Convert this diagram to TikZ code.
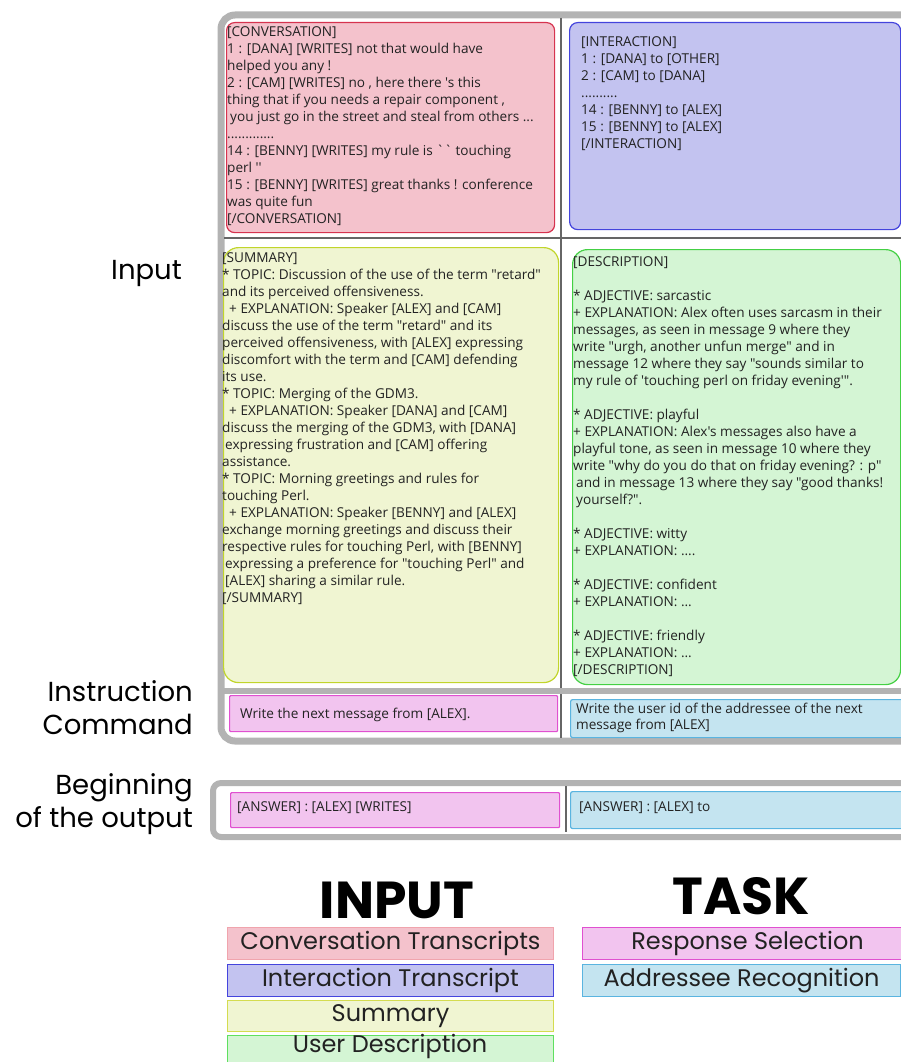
\documentclass[tikz,border=0pt]{standalone}
\usepackage{fontspec}
\setmainfont{Open Sans}[Ligatures=TeXOff]
\newfontfamily\labfont{Poppins}
\definecolor{framegray}{HTML}{B3B3B3}
\definecolor{divgray}{HTML}{666666}
\definecolor{txtcol}{HTML}{222222}
\definecolor{convfill}{HTML}{F4C2CC}
\definecolor{convline}{HTML}{D6334F}
\definecolor{intfill}{HTML}{C3C3F0}
\definecolor{intline}{HTML}{4444DD}
\definecolor{sumfill}{HTML}{F0F5D2}
\definecolor{sumline}{HTML}{C1D52B}
\definecolor{descfill}{HTML}{D4F5D4}
\definecolor{descline}{HTML}{44D044}
\definecolor{rsfill}{HTML}{F2C4EF}
\definecolor{rsline}{HTML}{E050D0}
\definecolor{arfill}{HTML}{C4E4F0}
\definecolor{arline}{HTML}{5AB4E0}
\definecolor{legconvline}{HTML}{F0A4AD}
\definecolor{legsumline}{HTML}{D4DC50}
\definecolor{legdescline}{HTML}{5FE05F}
\tikzset{
  frame/.style={draw=framegray, line width=7pt},
  divider/.style={draw=divgray, line width=1.2pt},
  box/.style={draw, line width=1.2pt, rounded corners=8pt, inner sep=0pt, anchor=north west},
  txt/.style={anchor=north west, inner sep=0pt, align=left, text=txtcol, font=\fontsize{13.6}{17}\selectfont},
  lab/.style={anchor=east, inner sep=0pt, align=right, text=black, font=\labfont\fontsize{27.5}{33}\selectfont},
  leg/.style={draw, line width=1pt, anchor=north west, inner sep=0pt, minimum width=326pt, minimum height=32pt, text=txtcol, font=\labfont\fontsize{24}{28}\selectfont},
  legtitle/.style={inner sep=0pt, text=black, font=\labfont\bfseries\fontsize{52}{52}\selectfont}
}
\begin{document}
\begin{tikzpicture}[x=1pt,y=-1pt]
\useasboundingbox (0,0) rectangle (901,1062);
% main frame
\draw[frame, rounded corners=14pt] (221,15) rectangle (940,741);
% boxes top row
\node[box, fill=convfill, draw=convline, minimum width=328pt, minimum height=210pt] (conv) at (226,22) {};
\node[box, fill=intfill, draw=intline, minimum width=331pt, minimum height=207pt] (inter) at (569,22) {};
% second row
\node[box, fill=sumfill, draw=sumline, rounded corners=15pt, minimum width=335pt, minimum height=435pt] (summ) at (223,247) {};
\node[box, fill=descfill, draw=descline, rounded corners=15pt, minimum width=328pt, minimum height=435pt] (desc) at (572,249) {};
% dividers
\draw[divider] (561,18) -- (561,738);
\draw[divider] (224,238) -- (901,238);
\draw[draw=framegray, line width=6pt] (222,691) -- (905,691);
% instruction row
\node[box, rounded corners=1pt, fill=rsfill, draw=rsline, minimum width=328pt, minimum height=36pt] (instrs) at (229,695) {};
\node[box, rounded corners=2pt, fill=arfill, draw=arline, minimum width=340pt, minimum height=38pt] (instar) at (570,699) {};
% texts
\node[txt] (convtxt) at (227,26.5) {[CONVERSATION]\\
1 : [DANA] [WRITES] not that would have\\
helped you any !\\
2 : [CAM] [WRITES] no , here there 's this\\
thing that if you needs a repair component ,\\
\hspace*{3pt}you just go in the street and steal from others ...\\
.............\\
14 : [BENNY] [WRITES] my rule is `{}` touching\\
perl '{}'\\
15 : [BENNY] [WRITES] great thanks ! conference\\
was quite fun\\
{[/CONVERSATION]}};
\node[txt] (inttxt) at (581,36.5) {[INTERACTION]\\
1 : [DANA] to [OTHER]\\
2 : [CAM] to [DANA]\\
..........\\
14 : [BENNY] to [ALEX]\\
15 : [BENNY] to [ALEX]\\
{[/INTERACTION]}};
\node[txt] (sumtxt) at (222,252.5) {[SUMMARY]\\
* TOPIC: Discussion of the use of the term "retard"\\
and its perceived offensiveness.\\
\hspace*{7pt}+ EXPLANATION: Speaker [ALEX] and [CAM]\\
discuss the use of the term "retard" and its\\
perceived offensiveness, with [ALEX] expressing\\
discomfort with the term and [CAM] defending\\
its use.\\
* TOPIC: Merging of the GDM3.\\
\hspace*{7pt}+ EXPLANATION: Speaker [DANA] and [CAM]\\
discuss the merging of the GDM3, with [DANA]\\
\hspace*{3pt}expressing frustration and [CAM] offering\\
assistance.\\
* TOPIC: Morning greetings and rules for\\
touching Perl.\\
\hspace*{7pt}+ EXPLANATION: Speaker [BENNY] and [ALEX]\\
exchange morning greetings and discuss their\\
respective rules for touching Perl, with [BENNY]\\
\hspace*{3pt}expressing a preference for "touching Perl" and\\
\hspace*{3pt}[ALEX] sharing a similar rule.\\
{[/SUMMARY]}};
\node[txt] (desctxt) at (573,256.5) {[DESCRIPTION]\\[17pt]
* ADJECTIVE: sarcastic\\
+ EXPLANATION: Alex often uses sarcasm in their\\
messages, as seen in message 9 where they\\
write "urgh, another unfun merge" and in\\
message 12 where they say "sounds similar to\\
my rule of 'touching perl on friday evening'".\\[17pt]
* ADJECTIVE: playful\\
+ EXPLANATION: Alex's messages also have a\\
playful tone, as seen in message 10 where they\\
write "why do you do that on friday evening? : p"\\
\hspace*{3pt}and in message 13 where they say "good thanks!\\
\hspace*{3pt}yourself?".\\[17pt]
* ADJECTIVE: witty\\
+ EXPLANATION: ....\\[17pt]
* ADJECTIVE: confident\\
+ EXPLANATION: ...\\[17pt]
* ADJECTIVE: friendly\\
+ EXPLANATION: ...\\
{[/DESCRIPTION]}};
\node[txt] (instrstxt) at (240,707.5) {Write the next message from [ALEX].};
\node[txt, font=\fontsize{13.6}{16}\selectfont] (instartxt) at (576,702.5) {Write the user id of the addressee of the next\\message from [ALEX]};
% output frame
\draw[frame, line width=6pt, rounded corners=8pt] (213,783) rectangle (940,837);
\draw[divider] (566,786) -- (566,832);
\node[box, rounded corners=1pt, fill=rsfill, draw=rsline, minimum width=329pt, minimum height=35pt] (anssr) at (230,792) {};
\node[box, rounded corners=2pt, fill=arfill, draw=arline, minimum width=340pt, minimum height=37pt] (ansar) at (570,791) {};
\node[txt] (anssrtxt) at (237,801.5) {[ANSWER] : [ALEX] [WRITES]};
\node[txt] (ansartxt) at (579,801.5) {[ANSWER] : [ALEX] to};
% side labels
\node[lab] (linput) at (182,273) {Input};
\node[lab] (linstr) at (193,708) {Instruction\\Command};
\node[lab] (lbegin) at (193,804) {Beginning\\of the output};
% legend
\node[legtitle] (tinput) at (397,900) {INPUT};
\node[legtitle] (ttask) at (741,896) {TASK};
\node[leg, fill=convfill, draw=legconvline] (lconv) at (227,927) {Conversation Transcripts};
\node[leg, fill=intfill, draw=intline] (lint) at (227,964) {Interaction Transcript};
\node[leg, fill=sumfill, draw=legsumline, minimum height=31pt] (lsum) at (227,1000) {Summary};
\node[leg, fill=descfill, draw=legdescline, minimum height=40pt] (ldesc) at (227,1035) {};
\node[inner sep=0pt, text=txtcol, font=\labfont\fontsize{24}{28}\selectfont] (ldesctxt) at (390,1046) {User Description};
\node[leg, fill=rsfill, draw=rsline, minimum width=330pt] (lrs) at (582,927) {Response Selection};
\node[leg, fill=arfill, draw=arline, minimum width=318pt] (lar) at (582,964) {Addressee Recognition};
\end{tikzpicture}
\end{document}
